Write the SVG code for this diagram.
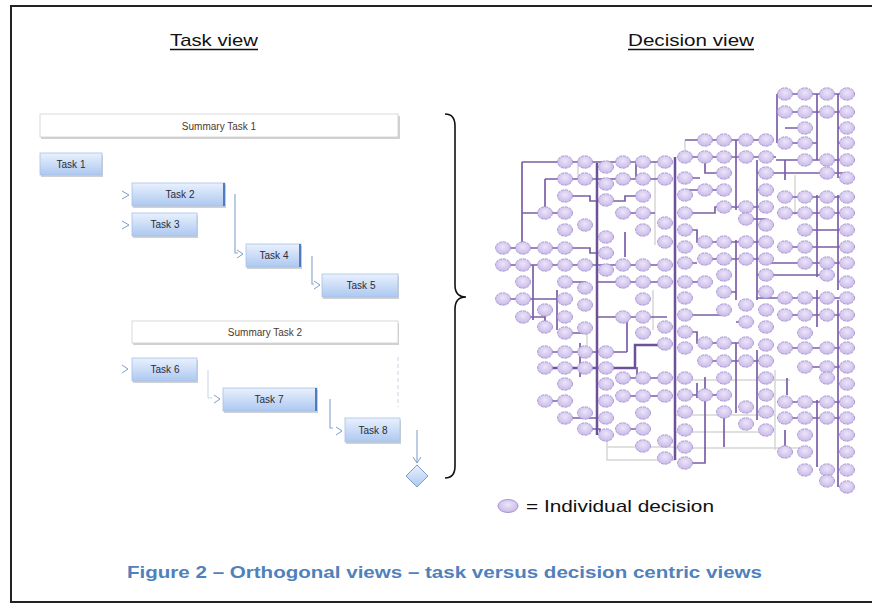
<svg xmlns="http://www.w3.org/2000/svg" xmlns:xlink="http://www.w3.org/1999/xlink" width="872" height="605" viewBox="0 0 872 605">
<style>
.title{font-family:"Liberation Sans",Arial,sans-serif;font-size:17px;fill:#111}
.ul{stroke:#111;stroke-width:1.5}
.sum{fill:#fff;stroke:#d0d0d0;stroke-width:0.8}
.sumtxt{font-family:"Liberation Sans",Arial,sans-serif;font-size:10px;fill:#4a3a30;text-anchor:middle}
.task{fill:url(#tg);stroke:#a9c1e6;stroke-width:0.8}
.shadow{fill:#9a9a9a;opacity:0.45}
.tasktxt{font-family:"Liberation Sans",Arial,sans-serif;font-size:10px;fill:#2a2a3a;text-anchor:middle}
.bar{fill:#4f7cbf}
.chev{fill:none;stroke:#7f9dcc;stroke-width:1}
.tline{fill:none;stroke:#8fa9d6;stroke-width:1.2}
.tgray{fill:none;stroke:#c9d3e3;stroke-width:1}
.brace{fill:none;stroke:#111;stroke-width:1.6}
.pl{fill:none;stroke:#7a5fa6;stroke-width:1.7}
.plt{fill:none;stroke:#6c5199;stroke-width:2.5}
.gl{fill:none;stroke:#d6d6d6;stroke-width:1.5}
.leg{font-family:"Liberation Sans",Arial,sans-serif;font-size:17px;fill:#111}
.cap{font-family:"Liberation Sans",Arial,sans-serif;font-size:17px;font-weight:bold;fill:#4f81bd}
</style>
<defs>
<linearGradient id="tg" x1="0" y1="0" x2="0" y2="1">
<stop offset="0" stop-color="#e9f1fd"/>
<stop offset="1" stop-color="#adc8f0"/>
</linearGradient>
<radialGradient id="cg" cx="0.5" cy="0.4" r="0.6">
<stop offset="0" stop-color="#ece5f9"/>
<stop offset="1" stop-color="#c8b9e8"/>
</radialGradient>
<ellipse id="dc" cx="0" cy="0" rx="7.5" ry="6.2" fill="url(#cg)" stroke="#a693d2" stroke-width="0.9" stroke-dasharray="3 1"/>
<clipPath id="dclip"><rect x="480" y="80" width="376" height="420"/></clipPath>
</defs>

<rect x="11" y="6" width="870" height="596" fill="#fff" stroke="#222" stroke-width="2"/>

<g id="titles">
<text class="title" x="170" y="46" textLength="88" lengthAdjust="spacingAndGlyphs">Task view</text>
<line class="ul" x1="170" y1="49.5" x2="258" y2="49.5"/>
<text class="title" x="628" y="46" textLength="126" lengthAdjust="spacingAndGlyphs">Decision view</text>
<line class="ul" x1="628" y1="49.5" x2="754" y2="49.5"/>
</g>

<g id="task-connectors">
<path class="chev" d="M122 191 L129 195 L122 199"/>
<path class="chev" d="M122 221 L129 225 L122 229"/>
<path class="tline" d="M235 194 V253 H238"/>
<path class="chev" d="M237 250 L243 254 L237 258"/>
<path class="tline" d="M312 256 V284 H314"/>
<path class="chev" d="M314 281 L320 285 L314 289"/>
<path class="chev" d="M122 365 L128 369 L122 373"/>
<path class="tgray" d="M208 370 V398 H212"/>
<path class="chev" d="M214 395 L220 399 L214 403"/>
<path class="tline" d="M330 399 V428 H333"/>
<path class="chev" d="M336 427 L342 431 L336 435"/>
<path class="tgray" d="M398 357 V407" stroke-dasharray="4 3"/>
<path class="tline" d="M417 430 V463"/>
<path class="chev" d="M413 457 L417 463 L421 457"/>
</g>

<g id="summary-task-1">
<rect class="shadow" x="41" y="116" width="359" height="23"/>
<rect class="sum" x="40" y="114" width="358" height="23"/>
<text class="sumtxt" x="219" y="129.5">Summary Task 1</text>
</g>
<g id="task-1">
<rect class="shadow" x="41" y="155" width="62" height="22"/>
<rect class="task" x="40" y="153" width="62" height="22"/>
<text class="tasktxt" x="71" y="167.5">Task 1</text>
</g>
<g id="task-2">
<rect class="shadow" x="133" y="185" width="93" height="23"/>
<rect class="task" x="132" y="183" width="93" height="23"/>
<rect class="bar" x="223" y="183" width="2" height="23"/>
<text class="tasktxt" x="180" y="198">Task 2</text>
</g>
<g id="task-3">
<rect class="shadow" x="133" y="215" width="65" height="23"/>
<rect class="task" x="132" y="213" width="65" height="23"/>
<text class="tasktxt" x="165" y="228">Task 3</text>
</g>
<g id="task-4">
<rect class="shadow" x="247" y="246" width="55" height="23"/>
<rect class="task" x="246" y="244" width="55" height="23"/>
<rect class="bar" x="299" y="244" width="2" height="23"/>
<text class="tasktxt" x="274" y="259">Task 4</text>
</g>
<g id="task-5">
<rect class="shadow" x="323" y="276" width="76" height="23"/>
<rect class="task" x="322" y="274" width="76" height="23"/>
<text class="tasktxt" x="361" y="289">Task 5</text>
</g>
<g id="summary-task-2">
<rect class="shadow" x="133" y="323" width="266" height="22"/>
<rect class="sum" x="132" y="321" width="266" height="22"/>
<text class="sumtxt" x="265" y="335.5">Summary Task 2</text>
</g>
<g id="task-6">
<rect class="shadow" x="133" y="360" width="65" height="23"/>
<rect class="task" x="132" y="358" width="65" height="23"/>
<text class="tasktxt" x="165" y="373">Task 6</text>
</g>
<g id="task-7">
<rect class="shadow" x="224" y="390" width="94" height="23"/>
<rect class="task" x="223" y="388" width="94" height="23"/>
<rect class="bar" x="315" y="388" width="2" height="23"/>
<text class="tasktxt" x="269" y="403">Task 7</text>
</g>
<g id="task-8">
<rect class="shadow" x="346" y="420" width="55" height="24"/>
<rect class="task" x="345" y="418" width="55" height="24"/>
<text class="tasktxt" x="373" y="433.5">Task 8</text>
</g>
<g id="milestone">
<path d="M417 465 L428 476 L417 487 L406 476 Z" fill="url(#tg)" stroke="#7f9dcc" stroke-width="1"/>
</g>

<g id="brace">
<path class="brace" d="M445 114 Q455 114 455 126 V285 Q455 297 466 297 Q455 297 455 309 V466 Q455 478 445 478"/>
</g>

<g id="decision-view" clip-path="url(#dclip)">
<g id="decision-connectors">
<path class="gl" d="M578 162 V180 M655 162 V245 M685 140 V160 M607 435 V460 H675 M607 447 H675 M675 380 H790 M675 415 H775 M675 432 H760 M675 448 H800 M775 370 V450 M795 175 V215 M653 290 V330 M587 330 V345"/>
<path class="pl" d="M522 162 H667 M522 162 V248 M545 179 H667 M545 179 V213 M522 213 H565 M565 196 H590 V201 H625 V196 H643 M623 213 H655 M503 248 H565 M565 248 H590 V253 H606 M503 265 H667 M597 282 H667 M565 282 H585 V288 M503 299 H565 M533 265 V320 M557 290 V330 M523 317 H545 M597 317 H667 M627 317 V352 M565 333 H585 V328 M545 352 H627 M623 378 H665 M623 396 H665 M545 401 H565 M585 429 H600 V435 H606 M623 429 H643 M636 162 V179 M545 310 V327 M580 343 V377 M565 418 H597 M625 232 V257 M637 367 V380"/>
<path class="plt" d="M597 163 V435 M675 157 V460 M545 368 H635 V345 H665"/>
<path class="pl" d="M685 140 H766 M685 157 H776 M736 140 V210 M757 160 V300 M777 94 V143 M777 94 H855 M777 112 H855 M785 128 H805 M838 128 H847 M785 143 H817 M838 143 H847 M817 94 V160 M838 94 V178 M776 160 H855 M705 157 V173 H724 M757 173 H847 M685 178 H700 M685 190 H724 M757 190 H766 M777 197 H855 M685 213 H715 V207 H766 M777 213 H855 M817 195 V277 M838 195 V290 M746 219 H766 M685 230 H697 V242 H766 M805 230 H847 M777 247 H855 M705 259 H766 M766 263 H847 M757 275 H827 M685 282 H705 M724 292 H736 M757 298 H855 M736 240 V300 M685 315 H724 M777 315 H855 M817 290 V327 M838 300 V487 M736 322 H746 M685 332 H697 V343 H746 M777 348 H855 M705 361 H766 M736 343 V413 M757 350 V420 M805 367 H847 M685 395 H724 M777 402 H855 M777 418 H855 M817 400 V467 M785 430 V452 M705 377 V463 H685 M724 412 V447 M787 378 V395 M697 383 V398 M685 263 H697 M785 160 V180"/>
</g>
<g id="decisions">
<use href="#dc" x="565" y="162"/><use href="#dc" x="585" y="162"/><use href="#dc" x="606" y="167"/><use href="#dc" x="623" y="162"/><use href="#dc" x="643" y="162"/><use href="#dc" x="665" y="162"/>
<use href="#dc" x="565" y="179"/><use href="#dc" x="585" y="179"/><use href="#dc" x="606" y="184"/><use href="#dc" x="623" y="179"/><use href="#dc" x="643" y="179"/><use href="#dc" x="665" y="179"/>
<use href="#dc" x="565" y="196"/><use href="#dc" x="606" y="200"/><use href="#dc" x="643" y="196"/>
<use href="#dc" x="545" y="213"/><use href="#dc" x="565" y="213"/><use href="#dc" x="623" y="213"/><use href="#dc" x="643" y="213"/><use href="#dc" x="665" y="223"/>
<use href="#dc" x="585" y="225"/><use href="#dc" x="565" y="230"/><use href="#dc" x="643" y="230"/>
<use href="#dc" x="606" y="237"/><use href="#dc" x="665" y="242"/>
<use href="#dc" x="503" y="248"/><use href="#dc" x="523" y="248"/><use href="#dc" x="545" y="248"/><use href="#dc" x="565" y="248"/><use href="#dc" x="606" y="253"/>
<use href="#dc" x="503" y="265"/><use href="#dc" x="523" y="265"/><use href="#dc" x="545" y="265"/><use href="#dc" x="565" y="265"/><use href="#dc" x="585" y="265"/><use href="#dc" x="606" y="270"/><use href="#dc" x="623" y="265"/><use href="#dc" x="643" y="265"/><use href="#dc" x="665" y="265"/>
<use href="#dc" x="523" y="282"/><use href="#dc" x="565" y="282"/><use href="#dc" x="623" y="282"/><use href="#dc" x="643" y="282"/><use href="#dc" x="665" y="282"/><use href="#dc" x="585" y="288"/>
<use href="#dc" x="503" y="299"/><use href="#dc" x="523" y="299"/><use href="#dc" x="565" y="299"/><use href="#dc" x="643" y="299"/>
<use href="#dc" x="585" y="305"/><use href="#dc" x="545" y="310"/>
<use href="#dc" x="523" y="317"/><use href="#dc" x="565" y="317"/><use href="#dc" x="623" y="317"/><use href="#dc" x="643" y="317"/>
<use href="#dc" x="545" y="327"/><use href="#dc" x="665" y="327"/><use href="#dc" x="585" y="328"/>
<use href="#dc" x="565" y="333"/><use href="#dc" x="643" y="333"/><use href="#dc" x="665" y="344"/>
<use href="#dc" x="545" y="352"/><use href="#dc" x="565" y="352"/><use href="#dc" x="585" y="352"/><use href="#dc" x="606" y="352"/>
<use href="#dc" x="545" y="368"/><use href="#dc" x="565" y="368"/><use href="#dc" x="585" y="368"/><use href="#dc" x="606" y="368"/>
<use href="#dc" x="623" y="378"/><use href="#dc" x="643" y="378"/><use href="#dc" x="665" y="378"/>
<use href="#dc" x="565" y="384"/><use href="#dc" x="606" y="384"/>
<use href="#dc" x="623" y="396"/><use href="#dc" x="643" y="396"/><use href="#dc" x="665" y="396"/>
<use href="#dc" x="545" y="401"/><use href="#dc" x="565" y="401"/><use href="#dc" x="606" y="401"/>
<use href="#dc" x="585" y="413"/><use href="#dc" x="643" y="413"/><use href="#dc" x="565" y="418"/><use href="#dc" x="606" y="418"/>
<use href="#dc" x="585" y="429"/><use href="#dc" x="623" y="429"/><use href="#dc" x="643" y="429"/>
<use href="#dc" x="606" y="435"/><use href="#dc" x="665" y="441"/><use href="#dc" x="643" y="446"/><use href="#dc" x="665" y="458"/>

<use href="#dc" x="785" y="94"/><use href="#dc" x="805" y="94"/><use href="#dc" x="827" y="94"/><use href="#dc" x="847" y="94"/>
<use href="#dc" x="785" y="112"/><use href="#dc" x="805" y="112"/><use href="#dc" x="827" y="112"/><use href="#dc" x="847" y="112"/>
<use href="#dc" x="805" y="128"/><use href="#dc" x="847" y="128"/>
<use href="#dc" x="705" y="140"/><use href="#dc" x="724" y="140"/><use href="#dc" x="746" y="140"/><use href="#dc" x="766" y="140"/>
<use href="#dc" x="785" y="143"/><use href="#dc" x="805" y="143"/><use href="#dc" x="847" y="143"/>
<use href="#dc" x="685" y="157"/><use href="#dc" x="705" y="157"/><use href="#dc" x="724" y="157"/><use href="#dc" x="746" y="157"/><use href="#dc" x="766" y="157"/>
<use href="#dc" x="805" y="160"/><use href="#dc" x="827" y="160"/><use href="#dc" x="847" y="160"/>
<use href="#dc" x="724" y="173"/><use href="#dc" x="766" y="173"/><use href="#dc" x="827" y="173"/>
<use href="#dc" x="685" y="178"/><use href="#dc" x="847" y="178"/>
<use href="#dc" x="705" y="190"/><use href="#dc" x="724" y="190"/><use href="#dc" x="766" y="190"/><use href="#dc" x="685" y="195"/>
<use href="#dc" x="785" y="197"/><use href="#dc" x="805" y="197"/><use href="#dc" x="827" y="197"/><use href="#dc" x="847" y="197"/>
<use href="#dc" x="724" y="207"/><use href="#dc" x="746" y="207"/><use href="#dc" x="766" y="207"/>
<use href="#dc" x="685" y="213"/><use href="#dc" x="785" y="213"/><use href="#dc" x="805" y="213"/><use href="#dc" x="827" y="213"/><use href="#dc" x="847" y="213"/>
<use href="#dc" x="746" y="219"/><use href="#dc" x="766" y="225"/>
<use href="#dc" x="685" y="230"/><use href="#dc" x="805" y="230"/><use href="#dc" x="847" y="230"/>
<use href="#dc" x="705" y="242"/><use href="#dc" x="724" y="242"/><use href="#dc" x="746" y="242"/><use href="#dc" x="766" y="242"/>
<use href="#dc" x="685" y="247"/><use href="#dc" x="785" y="247"/><use href="#dc" x="805" y="247"/><use href="#dc" x="847" y="247"/>
<use href="#dc" x="705" y="259"/><use href="#dc" x="724" y="259"/><use href="#dc" x="746" y="259"/><use href="#dc" x="766" y="259"/>
<use href="#dc" x="685" y="263"/><use href="#dc" x="805" y="263"/><use href="#dc" x="827" y="263"/><use href="#dc" x="847" y="263"/>
<use href="#dc" x="724" y="275"/><use href="#dc" x="766" y="275"/><use href="#dc" x="827" y="275"/>
<use href="#dc" x="685" y="282"/><use href="#dc" x="705" y="282"/><use href="#dc" x="847" y="282"/>
<use href="#dc" x="724" y="292"/><use href="#dc" x="766" y="292"/>
<use href="#dc" x="685" y="298"/><use href="#dc" x="785" y="298"/><use href="#dc" x="805" y="298"/><use href="#dc" x="827" y="298"/><use href="#dc" x="847" y="298"/>
<use href="#dc" x="746" y="305"/><use href="#dc" x="724" y="310"/><use href="#dc" x="766" y="310"/>
<use href="#dc" x="685" y="315"/><use href="#dc" x="785" y="315"/><use href="#dc" x="805" y="315"/><use href="#dc" x="827" y="315"/><use href="#dc" x="847" y="315"/>
<use href="#dc" x="746" y="322"/><use href="#dc" x="766" y="327"/><use href="#dc" x="685" y="332"/><use href="#dc" x="805" y="333"/><use href="#dc" x="847" y="333"/>
<use href="#dc" x="705" y="343"/><use href="#dc" x="724" y="343"/><use href="#dc" x="746" y="343"/><use href="#dc" x="766" y="345"/>
<use href="#dc" x="685" y="348"/><use href="#dc" x="785" y="348"/><use href="#dc" x="805" y="348"/><use href="#dc" x="827" y="348"/><use href="#dc" x="847" y="348"/>
<use href="#dc" x="705" y="361"/><use href="#dc" x="724" y="361"/><use href="#dc" x="746" y="361"/><use href="#dc" x="766" y="361"/>
<use href="#dc" x="805" y="367"/><use href="#dc" x="827" y="367"/><use href="#dc" x="847" y="367"/>
<use href="#dc" x="685" y="378"/><use href="#dc" x="724" y="378"/><use href="#dc" x="766" y="378"/><use href="#dc" x="827" y="378"/><use href="#dc" x="847" y="384"/>
<use href="#dc" x="685" y="395"/><use href="#dc" x="705" y="395"/><use href="#dc" x="724" y="395"/><use href="#dc" x="766" y="395"/>
<use href="#dc" x="785" y="402"/><use href="#dc" x="805" y="402"/><use href="#dc" x="827" y="402"/><use href="#dc" x="847" y="402"/>
<use href="#dc" x="746" y="407"/><use href="#dc" x="685" y="412"/><use href="#dc" x="724" y="412"/><use href="#dc" x="766" y="412"/>
<use href="#dc" x="785" y="418"/><use href="#dc" x="805" y="418"/><use href="#dc" x="827" y="418"/><use href="#dc" x="847" y="418"/>
<use href="#dc" x="746" y="424"/><use href="#dc" x="685" y="430"/><use href="#dc" x="766" y="430"/><use href="#dc" x="805" y="435"/><use href="#dc" x="847" y="435"/>
<use href="#dc" x="685" y="447"/><use href="#dc" x="785" y="452"/><use href="#dc" x="805" y="452"/><use href="#dc" x="847" y="452"/>
<use href="#dc" x="685" y="463"/><use href="#dc" x="805" y="470"/><use href="#dc" x="827" y="470"/><use href="#dc" x="847" y="470"/>
<use href="#dc" x="827" y="481"/><use href="#dc" x="847" y="487"/>
</g>
</g>

<g id="legend">
<ellipse cx="508" cy="506" rx="10" ry="6.5" fill="url(#cg)" stroke="#a693d2" stroke-width="1"/>
<text class="leg" x="526" y="512" textLength="188" lengthAdjust="spacingAndGlyphs">= Individual decision</text>
</g>

<g id="caption">
<text class="cap" x="127" y="578" textLength="635" lengthAdjust="spacingAndGlyphs">Figure 2 – Orthogonal views – task versus decision centric views</text>
</g>
</svg>
